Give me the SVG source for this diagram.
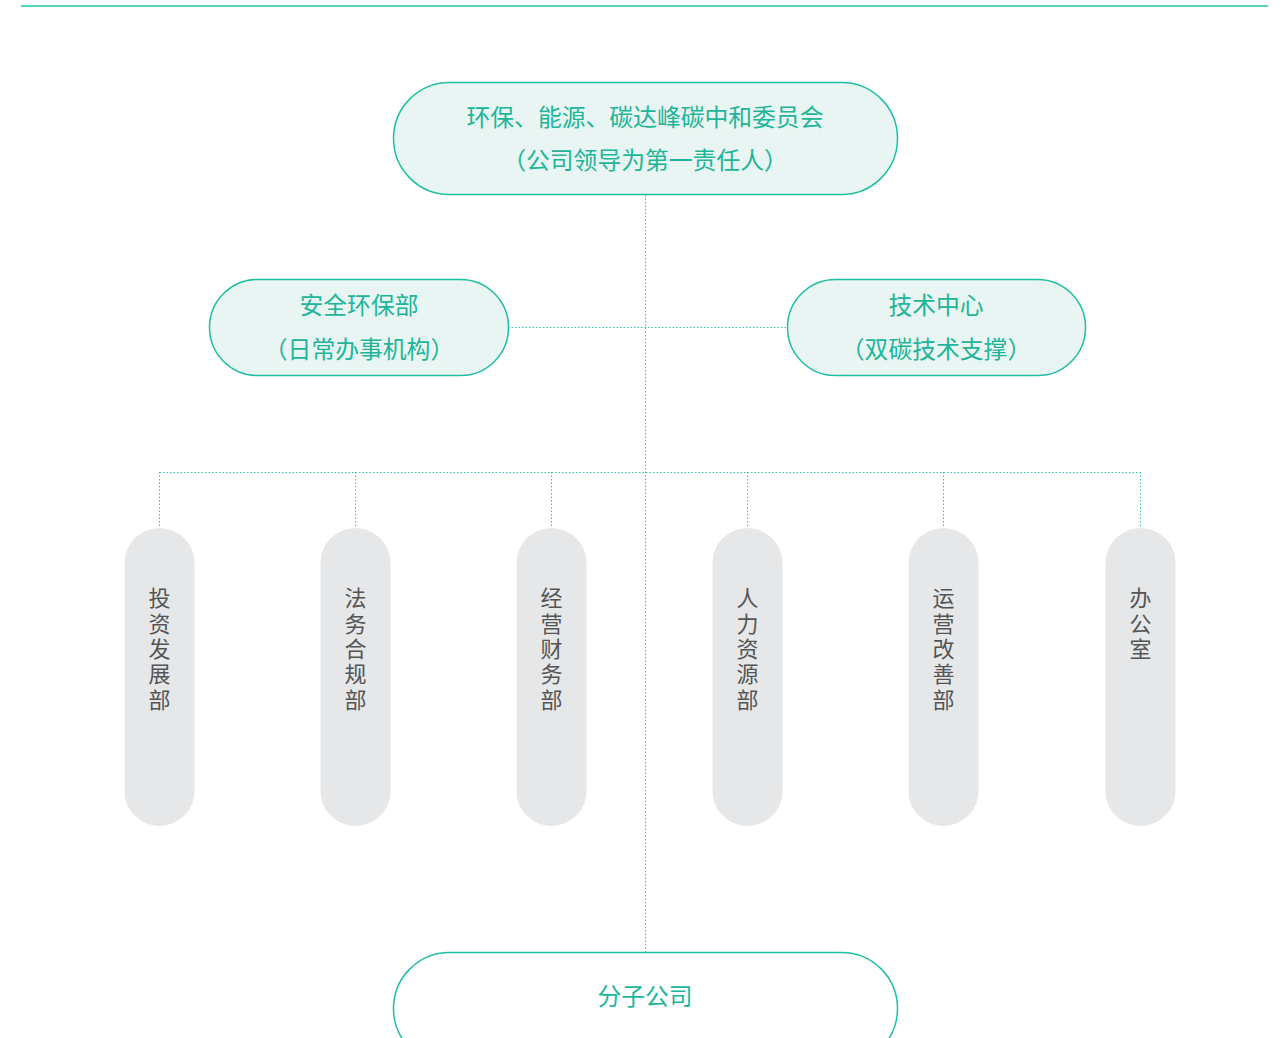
<svg xmlns="http://www.w3.org/2000/svg" width="1283" height="1038" viewBox="0 0 1283 1038">
<style>
.t{font-family:"Noto Sans CJK SC","Noto Sans",sans-serif;font-size:23.8px;fill:#20b598;text-anchor:middle;}
.v{font-family:"Noto Sans CJK SC","Noto Sans",sans-serif;font-size:22px;fill:#555;writing-mode:vertical-rl;text-orientation:upright;letter-spacing:3.3px;}
.g{fill:#e9f5f2;stroke:#20bfa3;stroke-width:1.5;}
.w{fill:#fff;stroke:#20bfa3;stroke-width:1.5;}
.p{fill:#e6e7e9;}
.c{fill:none;stroke:#2cc4ab;stroke-width:1;stroke-dasharray:1.5 2;}
</style>
<rect width="1283" height="1038" fill="#fff"/>
<line x1="21" y1="6" x2="1268" y2="6" stroke="#19c7ad" stroke-width="1.5"/>
<g id="connectors">
<line class="c" x1="645.5" y1="195" x2="645.5" y2="952"/>
<line class="c" x1="508" y1="327.5" x2="787" y2="327.5"/>
<line class="c" x1="159.5" y1="472.5" x2="1140.5" y2="472.5"/>
<line class="c" x1="159.5" y1="472" x2="159.5" y2="528"/>
<line class="c" x1="355.5" y1="472" x2="355.5" y2="528"/>
<line class="c" x1="551.5" y1="472" x2="551.5" y2="528"/>
<line class="c" x1="747.5" y1="472" x2="747.5" y2="528"/>
<line class="c" x1="943.5" y1="472" x2="943.5" y2="528"/>
<line class="c" x1="1140.5" y1="472" x2="1140.5" y2="528"/>
</g>
<g id="committee">
<rect class="g" x="393.5" y="82.5" width="504" height="112" rx="56"/>
<text class="t" x="645" y="126">环保、能源、碳达峰碳中和委员会</text>
<text class="t" x="645" y="169">（公司领导为第一责任人）</text>
</g>
<g id="safety">
<rect class="g" x="209.5" y="279.5" width="299" height="96" rx="48"/>
<text class="t" x="359" y="314">安全环保部</text>
<text class="t" x="359" y="358">（日常办事机构）</text>
</g>
<g id="tech">
<rect class="g" x="787.5" y="279.5" width="298" height="96" rx="48"/>
<text class="t" x="936" y="314">技术中心</text>
<text class="t" x="936" y="358">（双碳技术支撑）</text>
</g>
<g id="invest">
<rect class="p" x="124.5" y="528" width="70" height="298" rx="35"/>
<text class="v" x="159.5" y="587">投资发展部</text>
</g>
<g id="legal">
<rect class="p" x="320.5" y="528" width="70" height="298" rx="35"/>
<text class="v" x="355.5" y="587">法务合规部</text>
</g>
<g id="finance">
<rect class="p" x="516.5" y="528" width="70" height="298" rx="35"/>
<text class="v" x="551.5" y="587">经营财务部</text>
</g>
<g id="hr">
<rect class="p" x="712.5" y="528" width="70" height="298" rx="35"/>
<text class="v" x="747.5" y="587">人力资源部</text>
</g>
<g id="ops">
<rect class="p" x="908.5" y="528" width="70" height="298" rx="35"/>
<text class="v" x="943.5" y="587">运营改善部</text>
</g>
<g id="office">
<rect class="p" x="1105.5" y="528" width="70" height="298" rx="35"/>
<text class="v" x="1140.5" y="587">办公室</text>
</g>
<g id="subsidiaries">
<rect class="w" x="393.5" y="952.5" width="504" height="112" rx="56"/>
<text class="t" x="645" y="1005">分子公司</text>
</g>
</svg>
